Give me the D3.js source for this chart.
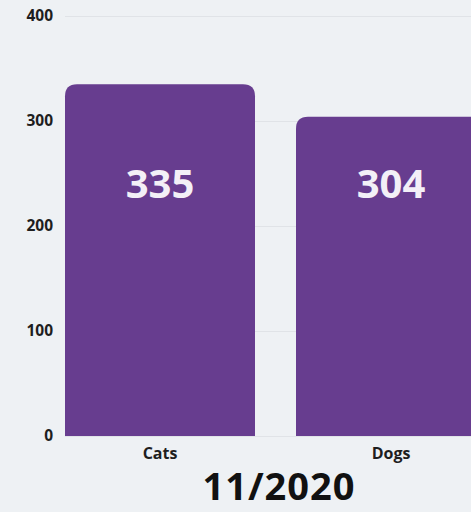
<!DOCTYPE html>
<html><head><meta charset="utf-8">
<script src="https://cdn.jsdelivr.net/npm/d3@7"></script>
<style>html,body{margin:0;padding:0;background:#eef1f4;overflow:hidden}svg{display:block}</style>
</head><body>
<script>
const categories = ["Cats", "Dogs"];
const values = [335, 304];
const yTicks = [0, 100, 200, 300, 400];
const title = "11/2020";

const W = 471, H = 512;
const svg = d3.select("body").append("svg").attr("width", W).attr("height", H)
  .style("font-family", "'Open Sans', 'Noto Sans', sans-serif");
svg.append("rect").attr("width", W).attr("height", H).attr("fill", "#eef1f4");

const y = d3.scaleLinear().domain([0, 400]).range([436, 16]);
const p = 41 / 231;
const x = d3.scaleBand().domain(categories).range([44.5, 506.5]).paddingInner(p).paddingOuter(p / 2);

// gridlines
svg.append("g").selectAll("line").data(yTicks).join("line")
  .attr("x1", 65).attr("x2", W).attr("y1", d => y(d) + 0.5).attr("y2", d => y(d) + 0.5)
  .attr("stroke", "#e0e3e7").attr("stroke-width", 1);

// y axis
const yAxis = d3.axisLeft(y).tickValues(yTicks).tickSize(0).tickPadding(0);
const gy = svg.append("g").attr("transform", "translate(53,0)").call(yAxis);
gy.select(".domain").remove();
gy.selectAll("text").attr("fill", "#1e1e1e").style("font-size", "15.5px").style("font-weight", "700")
  .style("font-family", "'Open Sans', 'Noto Sans', sans-serif");

// bars with rounded top corners
const r = 12;
function barPath(x0, w, yTop, yBot) {
  return `M${x0},${yBot}V${yTop + r}Q${x0},${yTop} ${x0 + r},${yTop}H${x0 + w - r}Q${x0 + w},${yTop} ${x0 + w},${yTop + r}V${yBot}Z`;
}
const data = categories.map((c, i) => ({ c, v: values[i] }));
svg.append("g").selectAll("path").data(data).join("path")
  .attr("d", d => barPath(x(d.c), x.bandwidth(), y(d.v), y(0)))
  .attr("fill", "#673d8f");

// value labels
svg.append("g").selectAll("text").data(data).join("text")
  .attr("x", d => x(d.c) + x.bandwidth() / 2)
  .attr("y", 198)
  .attr("text-anchor", "middle")
  .attr("fill", "#f3f0f7")
  .style("font-size", "40px").style("font-weight", "700")
  .text(d => d.v);

// x axis labels
const xAxis = d3.axisBottom(x).tickSize(0).tickPadding(0);
const gx = svg.append("g").attr("transform", `translate(0,${y(0)})`).call(xAxis);
gx.select(".domain").remove();
gx.selectAll("text").attr("fill", "#1e1e1e").attr("dy", null).attr("y", 23)
  .style("font-size", "16px").style("font-weight", "700")
  .style("font-family", "'Open Sans', 'Noto Sans', sans-serif");

// title
svg.append("text").attr("x", 279).attr("y", 500).attr("text-anchor", "middle")
  .attr("fill", "#111").style("font-size", "38px").style("font-weight", "700")
  .style("letter-spacing", "1px").text(title);
</script>
</body></html>
